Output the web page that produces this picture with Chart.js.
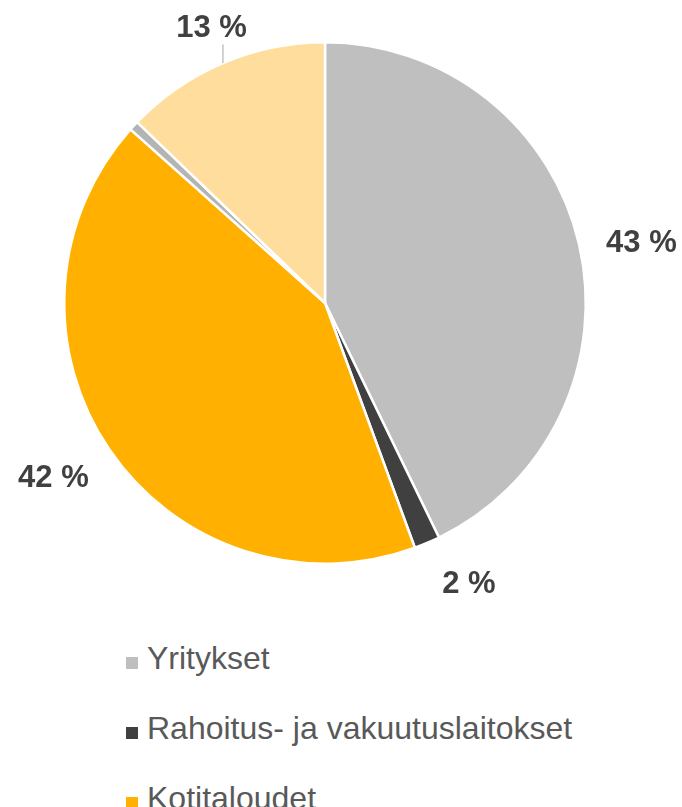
<!DOCTYPE html>
<html>
<head>
<meta charset="utf-8">
<script src="https://cdn.jsdelivr.net/npm/chart.js@4/dist/chart.umd.min.js"></script>
<style>
  html, body { margin: 0; padding: 0; background: #fff; overflow: hidden; }
  body { width: 682px; height: 807px; position: relative; font-family: "Liberation Sans", Arial, sans-serif; }
  #wrap { position: absolute; left: 0; top: 0; width: 682px; height: 620px; }
  #legend { position: absolute; left: 126px; top: 623px; margin: 0; padding: 0; list-style: none; }
  #legend li { height: 70px; display: flex; align-items: center; font-size: 32px; line-height: 1; color: #595959; white-space: nowrap; }
  #legend .box { width: 12px; height: 12px; margin-right: 9px; margin-top: 10px; flex: none; }
</style>
</head>
<body>
<div id="wrap"><canvas id="myChart"></canvas></div>
<ul id="legend"></ul>
<script>
'use strict';

// sectors, clockwise from 12 o'clock
let sectorNames = ['Yritykset', 'Rahoitus- ja vakuutuslaitokset', 'Kotitaloudet', 'Voittoa tavoittelemattomat yhteisöt', 'Julkisyhteisöt'];
let sectorShares = [42.8, 1.6, 42.2, 0.6, 12.8];
let sectorColors = ['#BFBFBF', '#404040', '#FFB000', '#B4B4B4', '#FFDD9C'];

// small hand moves of the percent labels, like in the original
let labelNudge = [[2, 10], [24, -3], [-6, -8], [0, 0], [5, 2]];

// percent labels drawn outside the pie
let outsideLabels = {
    id: 'outsideLabels',
    afterDatasetsDraw(chart) {
        let ctx = chart.ctx;
        let meta = chart.getDatasetMeta(0);
        ctx.save();
        ctx.font = 'bold 31px "Liberation Sans", Arial, sans-serif';
        ctx.fillStyle = '#404040';
        ctx.textAlign = 'center';
        ctx.textBaseline = 'alphabetic';
        let capH = 22;
        meta.data.forEach(function (arc, i) {
            let value = chart.data.datasets[0].data[i];
            if (value < 1) return;
            let text = Math.round(value) + ' %';
            let p = arc.getProps(['x', 'y', 'startAngle', 'endAngle', 'outerRadius'], true);
            let mid = (p.startAngle + p.endAngle) / 2;
            let ux = Math.cos(mid);
            let uy = Math.sin(mid);
            let w = ctx.measureText(text).width;
            let leader = (i === 4);
            let gap = leader ? 18 : 25;
            let d = p.outerRadius + gap + (w / 2) * Math.abs(ux) + (capH / 2) * Math.abs(uy);
            let cx = p.x + ux * d + labelNudge[i][0];
            let cy = p.y + uy * d + labelNudge[i][1];
            ctx.fillText(text, cx, cy + capH / 2);
            if (leader) {
                let ex = p.x + ux * p.outerRadius;
                let ey = p.y + uy * p.outerRadius;
                ctx.strokeStyle = '#A6A6A6';
                ctx.lineWidth = 1;
                ctx.beginPath();
                ctx.moveTo(ex, ey);
                ctx.lineTo(ex, cy + capH / 2 + 7);
                ctx.stroke();
            }
        });
        ctx.restore();
    }
};

let ctx = document.getElementById('myChart').getContext('2d');
let chart = new Chart(ctx, {
    type: 'pie',
    data: {
        labels: sectorNames,
        datasets: [{
            data: sectorShares,
            backgroundColor: sectorColors,
            borderColor: '#FFFFFF',
            borderWidth: 2.5
        }]
    },
    options: {
        responsive: true,
        maintainAspectRatio: false,
        animation: false,
        layout: { padding: { left: 63, right: 95, top: 41, bottom: 55 } },
        plugins: {
            legend: { display: false },
            tooltip: { enabled: false }
        }
    },
    plugins: [outsideLabels]
});

// legend as a vertical list under the pie
let legendList = document.getElementById('legend');
for (let i = 0; i < sectorNames.length; i++) {
    let li = document.createElement('li');
    let box = document.createElement('span');
    box.className = 'box';
    box.style.background = sectorColors[i];
    li.appendChild(box);
    li.appendChild(document.createTextNode(sectorNames[i]));
    legendList.appendChild(li);
}
</script>
</body>
</html>
